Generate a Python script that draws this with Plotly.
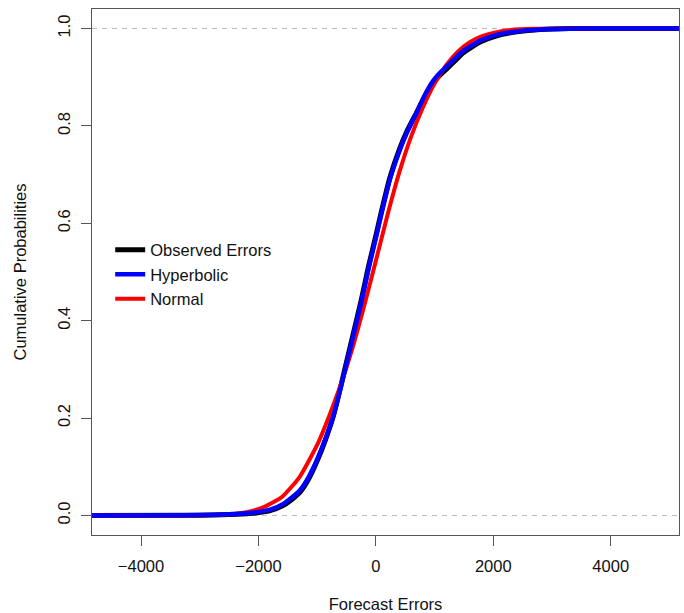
import plotly.graph_objects as go

# Data
x_range = [-4835, 5163]
y_range = [-0.04, 1.04]

x_ticks = [-4000, -2000, 0, 2000, 4000]
x_tick_labels = ["\u22124000", "\u22122000", "0", "2000", "4000"]
y_ticks = [0.0, 0.2, 0.4, 0.6, 0.8, 1.0]
y_tick_labels = ["0.0", "0.2", "0.4", "0.6", "0.8", "1.0"]

hyp_x = [-4835, -3500, -3000, -2500, -2150, -1800, -1576, -1400, -1292, -1150, -1008, -860,
         -725, -600, -540, -400, -250, -128, 0, 100, 239, 400, 525, 700, 850, 979,
         1100, 1207, 1377, 1490, 1774, 2058, 2400, 2800, 3300, 4000, 5163]
hyp_y = [0.0, 0.0003, 0.001, 0.0025, 0.005, 0.012, 0.024, 0.040, 0.052, 0.078, 0.113, 0.157,
         0.204, 0.262, 0.292, 0.362, 0.437, 0.505, 0.570, 0.622, 0.690, 0.748, 0.785, 0.829, 0.867, 0.893,
         0.910, 0.922, 0.942, 0.954, 0.975, 0.987, 0.994, 0.998, 0.9995, 1.0, 1.0]

obs_x = [-4835, -3000, -2500, -2150, -1800, -1576, -1400, -1292, -1150, -1008, -860,
         -725, -600, -540, -400, -250, -128, 0, 100, 239, 400, 525, 700, 850, 979,
         1100, 1207, 1377, 1490, 1774, 2058, 2400, 2800, 3300, 5163]
obs_y = [0.0, 0.0008, 0.002, 0.004, 0.010, 0.021, 0.036, 0.048, 0.074, 0.110, 0.155,
         0.204, 0.264, 0.295, 0.366, 0.442, 0.510, 0.575, 0.627, 0.694, 0.752, 0.788, 0.829, 0.865, 0.889,
         0.905, 0.917, 0.937, 0.950, 0.972, 0.985, 0.993, 0.998, 1.0, 1.0]

norm_x = [-4835, -3500, -3000, -2500, -2200, -1900, -1600, -1300, -1000, -800, -600, -400,
          -200, 0, 200, 400, 600, 800, 1000, 1200, 1400, 1600, 1800, 2000, 2300, 2700,
          3200, 5163]
norm_y = [0.0, 0.0001, 0.0004, 0.0025, 0.007, 0.018, 0.038, 0.079, 0.145, 0.203, 0.268, 0.343,
          0.430, 0.523, 0.618, 0.705, 0.778, 0.838, 0.887, 0.925, 0.953, 0.972, 0.984, 0.991, 0.997, 0.9993,
          0.9999, 1.0]

FONT = "Liberation Sans, Arial, sans-serif"
AXIS_COL = "#555555"
TXT = "#111111"

fig = go.Figure()
fig.add_trace(go.Scatter(x=obs_x, y=obs_y, mode="lines", name="Observed Errors",
                         line=dict(color="black", width=5, shape="spline", smoothing=0.5),
                         legendrank=1))
fig.add_trace(go.Scatter(x=norm_x, y=norm_y, mode="lines", name="Normal",
                         line=dict(color="red", width=4, shape="spline", smoothing=0.5),
                         legendrank=3))
fig.add_trace(go.Scatter(x=hyp_x, y=hyp_y, mode="lines", name="Hyperbolic",
                         line=dict(color="blue", width=4.5, shape="spline", smoothing=0.5),
                         legendrank=2))

for yv in [0.0, 1.0]:
    fig.add_shape(type="line", xref="paper", x0=0, x1=1, yref="y", y0=yv, y1=yv,
                  line=dict(color="#bbbbbb", width=1, dash="5px,5px"), layer="below")

fig.update_layout(
    width=684, height=613,
    margin=dict(l=92, r=5, t=9, b=78, autoexpand=False),
    paper_bgcolor="white", plot_bgcolor="white",
    font=dict(family=FONT, size=16.5, color=TXT),
    showlegend=True,
    legend=dict(x=0.031, y=0.575, xanchor="left", yanchor="top",
                bgcolor="rgba(0,0,0,0)", borderwidth=0,
                font=dict(family=FONT, size=16.5, color=TXT),
                tracegroupgap=0),
    xaxis=dict(range=x_range, tickmode="array", tickvals=x_ticks, ticktext=x_tick_labels,
               ticks="outside", ticklen=10, tickcolor=AXIS_COL, tickwidth=1,
               ticklabelstandoff=6, automargin=False,
               showline=True, linecolor=AXIS_COL, linewidth=1, mirror=True,
               showgrid=False, zeroline=False,
               title=dict(text="Forecast Errors", standoff=24,
                          font=dict(family=FONT, size=16.5, color=TXT))),
    yaxis=dict(range=y_range, tickmode="array", tickvals=y_ticks, ticktext=y_tick_labels,
               ticks="outside", ticklen=10, tickcolor=AXIS_COL, tickwidth=1, tickangle=-90,
               ticklabelstandoff=4, automargin=False,
               showline=True, linecolor=AXIS_COL, linewidth=1, mirror=True,
               showgrid=False, zeroline=False,
               title=dict(text="Cumulative Probabilities", standoff=24,
                          font=dict(family=FONT, size=16.5, color=TXT))),
)

fig.write_html("out.html")
